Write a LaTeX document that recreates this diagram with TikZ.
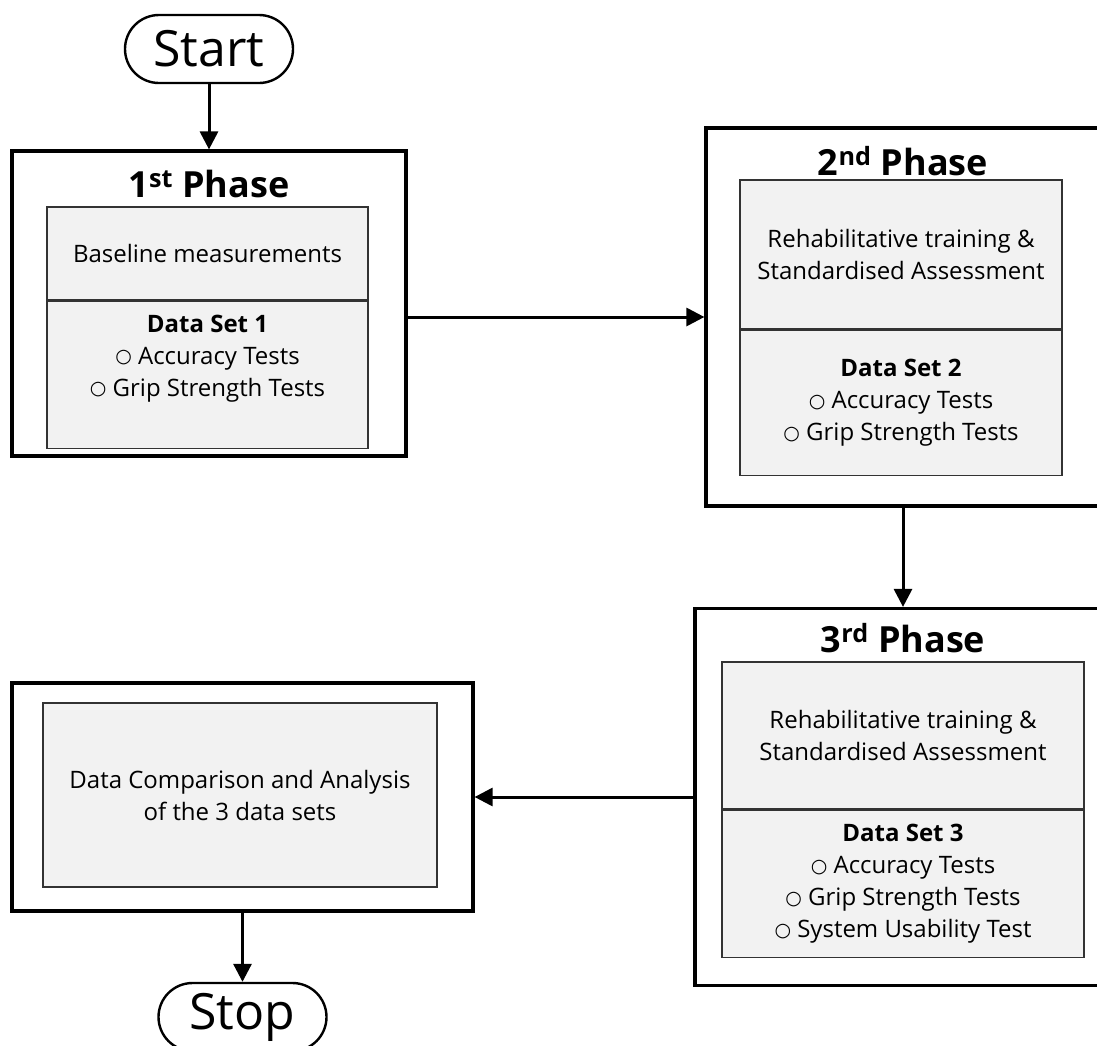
\documentclass[tikz,border=0pt]{standalone}
\usepackage{fontspec}
\usepackage{xcolor}
\setmainfont{Open Sans}
\newfontfamily\symfont{DejaVu Sans}
\usetikzlibrary{positioning,arrows.meta}
\definecolor{boxgray}{RGB}{242,242,242}
\newcommand{\bul}{\raisebox{1.5pt}{\symfont\fontsize{19}{19}\selectfont ○}}

\begin{document}
\begin{tikzpicture}[x=1pt,y=-1pt,
    outer/.style={draw, line width=3.2pt, inner sep=0pt},
    part/.style={draw=black!80, line width=1.3pt, fill=boxgray, inner sep=0pt,
                 align=center, font=\fontsize{24}{32}\selectfont},
    title/.style={anchor=base, font=\bfseries\fontsize{36}{40}\selectfont},
    term/.style={draw, line width=2.4pt, rounded corners=34pt, minimum width=168pt,
                 minimum height=68pt, inner sep=0pt, font=\fontsize{50}{50}\selectfont},
    txt/.style={align=center, inner sep=0pt, font=\fontsize{24}{32}\selectfont},
    arr/.style={-{Triangle[length=18pt,width=18pt]}, line width=3pt}]
    \useasboundingbox (0,0) rectangle (1097,1045);
    \clip (0,0) rectangle (1097,1045);

    % Start
    \node[term] (start) at (209,49) {Start};

    % 1st phase
    \node[outer, minimum width=394pt, minimum height=305pt] (p1) at (209,303.5) {};
    \node[title] (p1t) at (209,197) {1\textsuperscript{st} Phase};
    \node[part, minimum width=321pt, minimum height=93pt] (p1a) at (207.5,253.5) {Baseline measurements};
    \node[part, minimum width=321pt, minimum height=147pt, below=0pt of p1a] (p1b) {};
    \node[txt, below=14pt of p1b.north] (p1d) {\textbf{Data Set 1}\\ \bul{} Accuracy Tests\\ \bul{} Grip Strength Tests};

    % 2nd phase
    \node[outer, minimum width=394pt, minimum height=378pt] (p2) at (903,317) {};
    \node[title] (p2t) at (903,175) {2\textsuperscript{nd} Phase};
    \node[part, minimum width=322pt, minimum height=149pt] (p2a) at (901,254.5) {Rehabilitative training \&\\ Standardised Assessment};
    \node[part, minimum width=322pt, minimum height=145pt, below=0pt of p2a] (p2b) {\textbf{Data Set 2}\\ \bul{} Accuracy Tests\\ \bul{} Grip Strength Tests};

    % 3rd phase
    \node[outer, minimum width=416pt, minimum height=377pt] (p3) at (903,797) {};
    \node[title] (p3t) at (903,652) {3\textsuperscript{rd} Phase};
    \node[part, minimum width=362pt, minimum height=147pt] (p3a) at (903,735.5) {Rehabilitative training \&\\ Standardised Assessment};
    \node[part, minimum width=362pt, minimum height=147pt, below=0pt of p3a] (p3b) {\textbf{Data Set 3}\\ \bul{} Accuracy Tests\\ \bul{} Grip Strength Tests\\ \bul{} System Usability Test};

    % Analysis
    \node[outer, minimum width=461pt, minimum height=228pt] (ana) at (242.5,797) {};
    \node[part, minimum width=394pt, minimum height=184pt] (anai) at (240,795) {Data Comparison and Analysis\\ of the 3 data sets};

    % Stop
    \node[term] (stop) at (242.5,1017) {Stop};

    % Arrows
    \draw[arr] (start) -- (p1);
    \draw[arr] (p1.east |- p2.west) -- (p2.west);
    \draw[arr] (p2) -- (p3);
    \draw[arr] (p3) -- (ana);
    \draw[arr] (ana) -- (stop);
\end{tikzpicture}
\end{document}
